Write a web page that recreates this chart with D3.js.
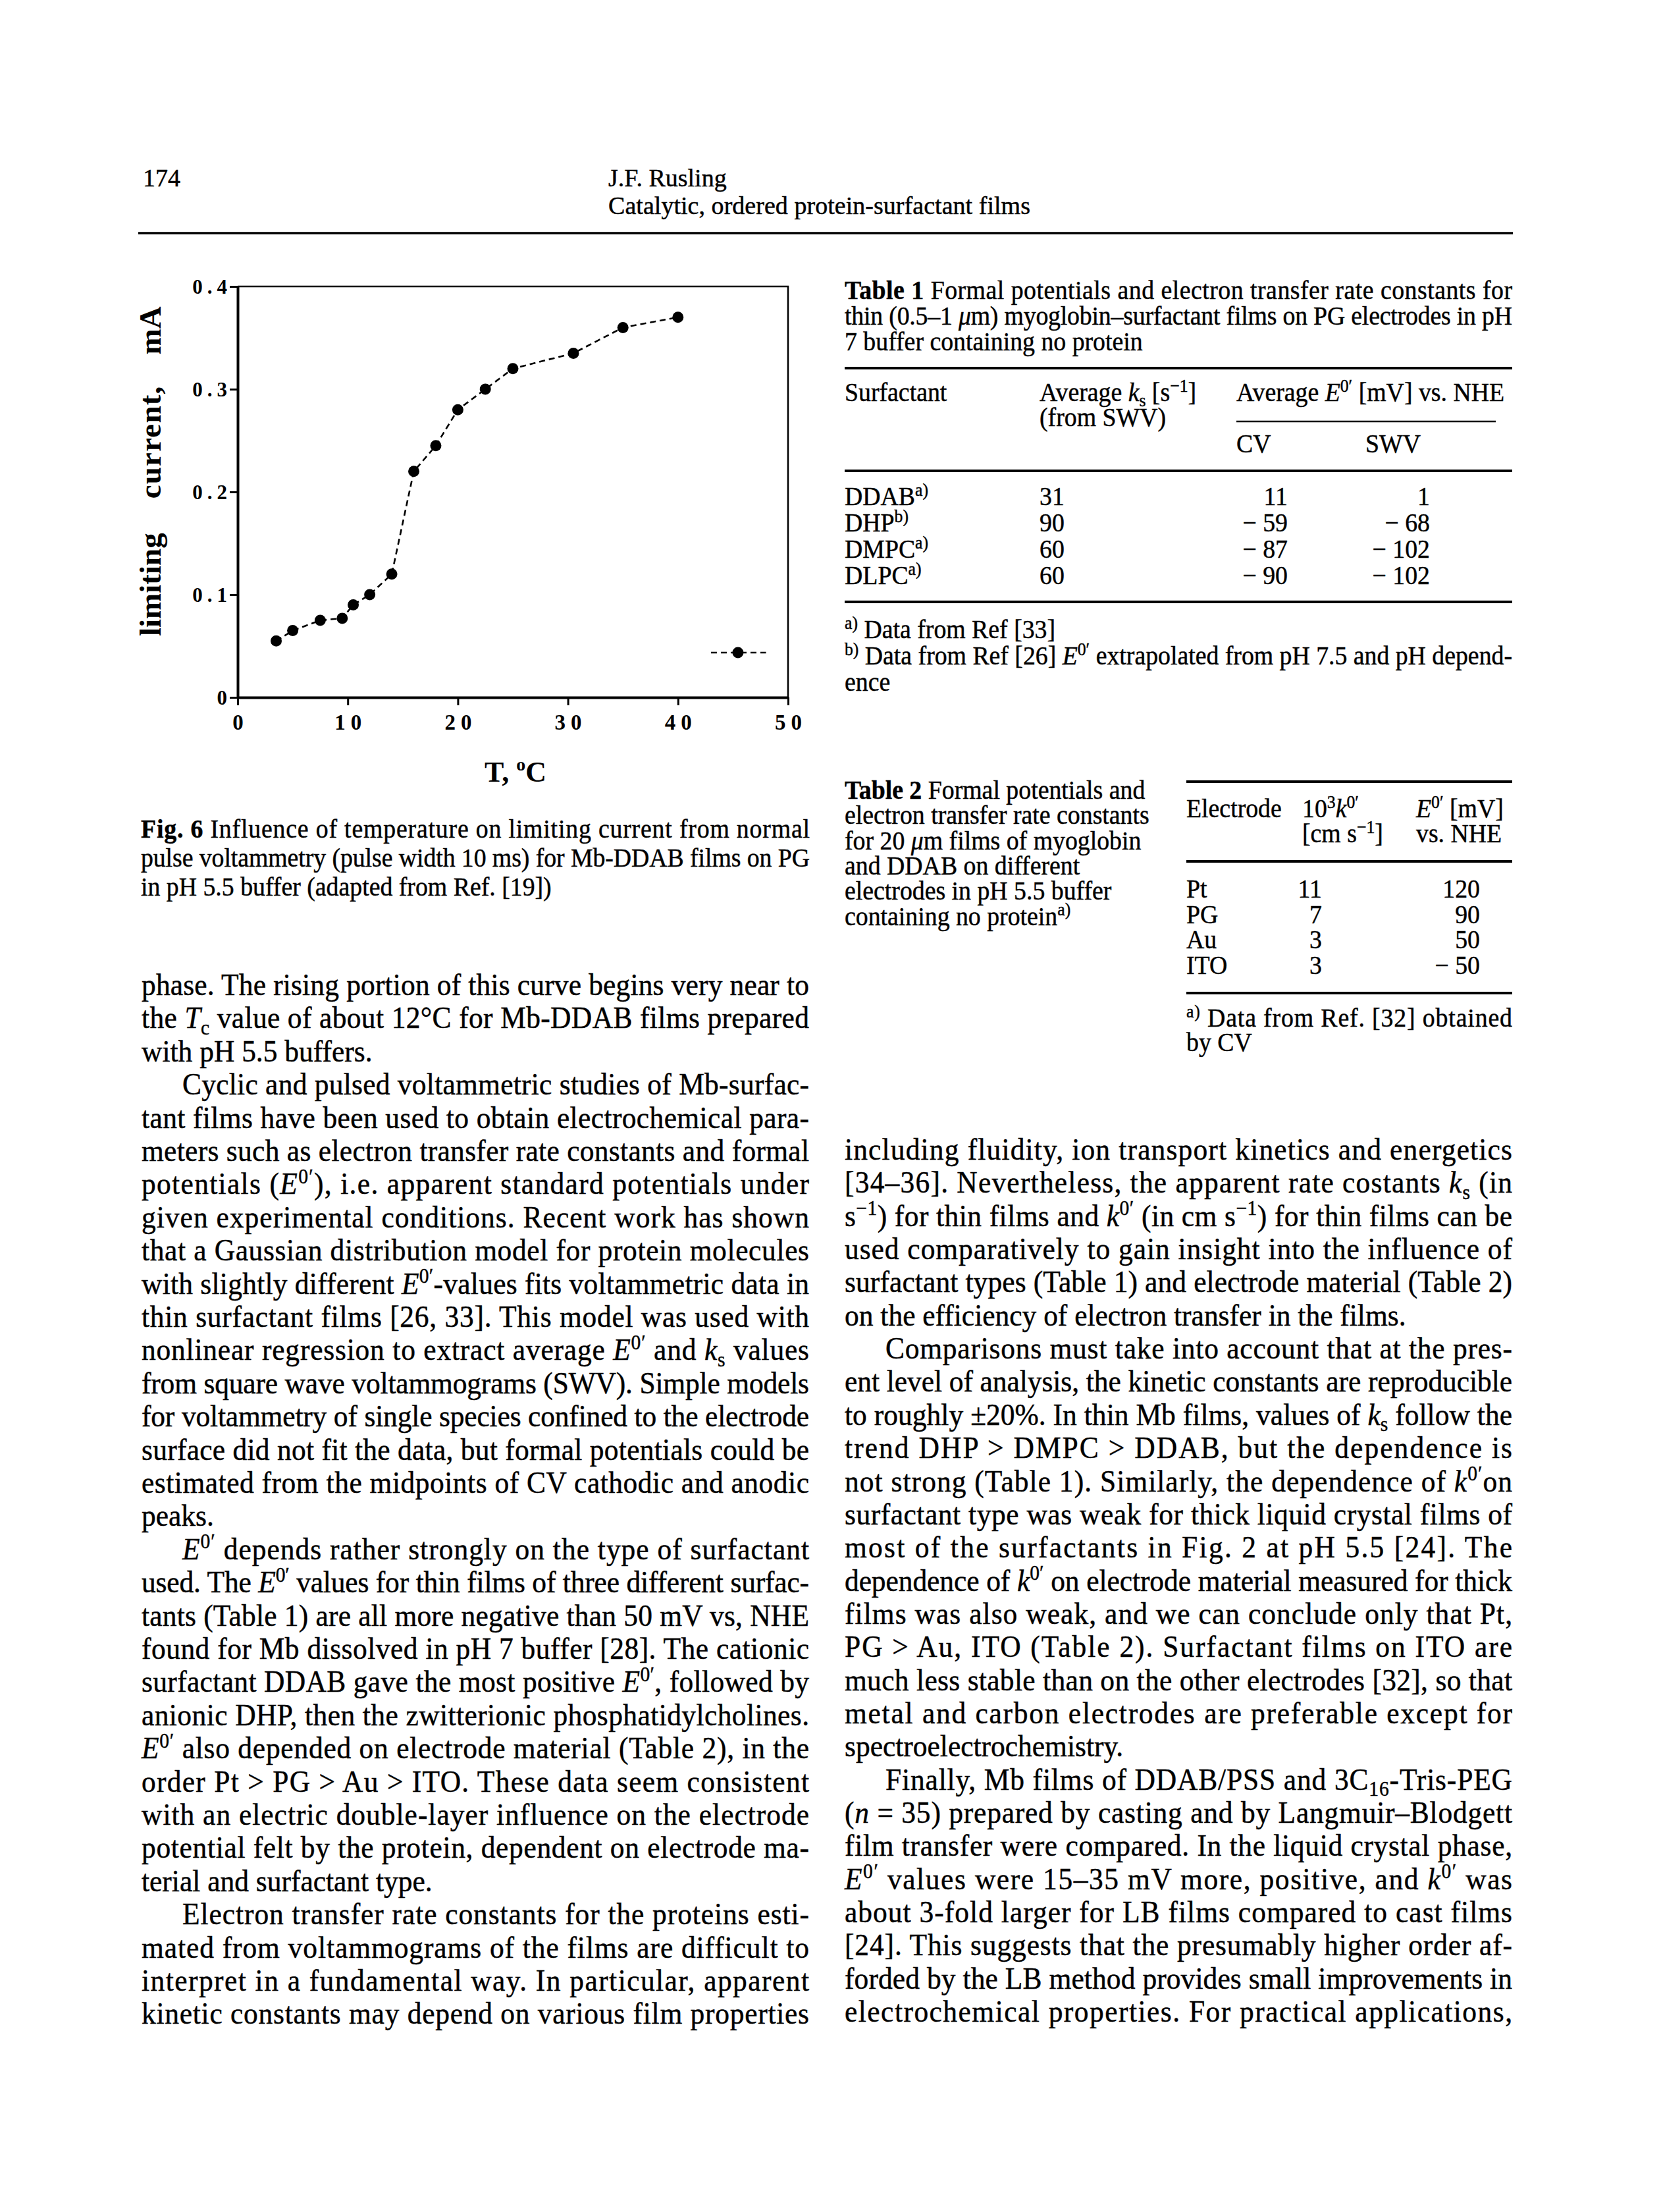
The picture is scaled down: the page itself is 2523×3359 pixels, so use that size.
<!DOCTYPE html>
<html><head><meta charset="utf-8">
<script src="https://cdn.jsdelivr.net/npm/d3@7"></script>
<style>
html,body{margin:0;padding:0;background:#fff;}
svg{display:block;}
text{font-family:"Liberation Serif","Times New Roman",serif;fill:#000;}
.ink text{stroke:#000;stroke-width:0.45px;}
</style></head><body>
<svg id="page" width="2523" height="3359"></svg>
<script>
// ---------------- chart data (Fig. 6) ----------------
const temperatureC   = [3.5, 5, 7.5, 9.5, 10.5, 12, 14, 16, 18, 20, 22.5, 25, 30.5, 35, 40];
const limitingCurrent = [0.055, 0.065, 0.075, 0.077, 0.09, 0.10, 0.12, 0.22, 0.245, 0.28, 0.30, 0.32, 0.335, 0.36, 0.37];
const xTickValues = [0, 10, 20, 30, 40, 50];
const xTickLabels = ["0", "10", "20", "30", "40", "50"];
const yTickValues = [0, 0.1, 0.2, 0.3, 0.4];
const yTickLabels = ["0", "0.1", "0.2", "0.3", "0.4"];
const legendLineT = [43, 48];
const legendDotT = 45.45;
const legendI = 0.0436;
const yLabelWords = ["limiting", "current,", "mA"];

// ---------------- table data ----------------
const table1Rows = [
  ["DDAB<sup>a)</sup>", "31", "11", "1"],
  ["DHP<sup>b)</sup>", "90", "− 59", "− 68"],
  ["DMPC<sup>a)</sup>", "60", "− 87", "− 102"],
  ["DLPC<sup>a)</sup>", "60", "− 90", "− 102"]
];
const table2Rows = [
  ["Pt", "11", "120"],
  ["PG", "7", "90"],
  ["Au", "3", "50"],
  ["ITO", "3", "− 50"]
];

// ---------------- text ----------------
const leftLines = [
  ["phase. The rising portion of this curve begins very near to","j"],
  ["the <i>T</i><sub>c</sub> value of about 12°C for Mb-DDAB films prepared","j"],
  ["with pH 5.5 buffers.","l"],
  ["Cyclic and pulsed voltammetric studies of Mb-surfac-","pj"],
  ["tant films have been used to obtain electrochemical para-","j"],
  ["meters such as electron transfer rate constants and formal","j"],
  ["potentials (<i>E</i><sup>0′</sup>), i.e. apparent standard potentials under","j"],
  ["given experimental conditions. Recent work has shown","j"],
  ["that a Gaussian distribution model for protein molecules","j"],
  ["with slightly different <i>E</i><sup>0′</sup>-values fits voltammetric data in","j"],
  ["thin surfactant films [26, 33]. This model was used with","j"],
  ["nonlinear regression to extract average <i>E</i><sup>0′</sup> and <i>k</i><sub>s</sub> values","j"],
  ["from square wave voltammograms (SWV). Simple models","j"],
  ["for voltammetry of single species confined to the electrode","j"],
  ["surface did not fit the data, but formal potentials could be","j"],
  ["estimated from the midpoints of CV cathodic and anodic","j"],
  ["peaks.","l"],
  ["<i>E</i><sup>0′</sup> depends rather strongly on the type of surfactant","pj"],
  ["used. The <i>E</i><sup>0′</sup> values for thin films of three different surfac-","j"],
  ["tants (Table 1) are all more negative than 50 mV vs, NHE","j"],
  ["found for Mb dissolved in pH 7 buffer [28]. The cationic","j"],
  ["surfactant DDAB gave the most positive <i>E</i><sup>0′</sup>, followed by","j"],
  ["anionic DHP, then the zwitterionic phosphatidylcholines.","j"],
  ["<i>E</i><sup>0′</sup> also depended on electrode material (Table 2), in the","j"],
  ["order Pt > PG > Au > ITO. These data seem consistent","j"],
  ["with an electric double-layer influence on the electrode","j"],
  ["potential felt by the protein, dependent on electrode ma-","j"],
  ["terial and surfactant type.","l"],
  ["Electron transfer rate constants for the proteins esti-","pj"],
  ["mated from voltammograms of the films are difficult to","j"],
  ["interpret in a fundamental way. In particular, apparent","j"],
  ["kinetic constants may depend on various film properties","j"]
];
const rightLines = [
  ["including fluidity, ion transport kinetics and energetics","j"],
  ["[34–36]. Nevertheless, the apparent rate costants <i>k</i><sub>s</sub> (in","j"],
  ["s<sup>−1</sup>) for thin films and <i>k</i><sup>0′</sup> (in cm s<sup>−1</sup>) for thin films can be","j"],
  ["used comparatively to gain insight into the influence of","j"],
  ["surfactant types (Table 1) and electrode material (Table 2)","j"],
  ["on the efficiency of electron transfer in the films.","l"],
  ["Comparisons must take into account that at the pres-","pj"],
  ["ent level of analysis, the kinetic constants are reproducible","j"],
  ["to roughly ±20%. In thin Mb films, values of <i>k</i><sub>s</sub> follow the","j"],
  ["trend DHP > DMPC > DDAB, but the dependence is","j"],
  ["not strong (Table 1). Similarly, the dependence of <i>k</i><sup>0′</sup>on","j"],
  ["surfactant type was weak for thick liquid crystal films of","j"],
  ["most of the surfactants in Fig. 2 at pH 5.5 [24]. The","j"],
  ["dependence of <i>k</i><sup>0′</sup> on electrode material measured for thick","j"],
  ["films was also weak, and we can conclude only that Pt,","j"],
  ["PG > Au, ITO (Table 2). Surfactant films on ITO are","j"],
  ["much less stable than on the other electrodes [32], so that","j"],
  ["metal and carbon electrodes are preferable except for","j"],
  ["spectroelectrochemistry.","l"],
  ["Finally, Mb films of DDAB/PSS and 3C<sub>16</sub>-Tris-PEG","pj"],
  ["(<i>n</i> = 35) prepared by casting and by Langmuir–Blodgett","j"],
  ["film transfer were compared. In the liquid crystal phase,","j"],
  ["<i>E</i><sup>0′</sup> values were 15–35 mV more, positive, and <i>k</i><sup>0′</sup> was","j"],
  ["about 3-fold larger for LB films compared to cast films","j"],
  ["[24]. This suggests that the presumably higher order af-","j"],
  ["forded by the LB method provides small improvements in","j"],
  ["electrochemical properties. For practical applications,","j"]
];
const figCaption = [
  ["<b>Fig. 6</b> Influence of temperature on limiting current from normal","j"],
  ["pulse voltammetry (pulse width 10 ms) for Mb-DDAB films on PG","j"],
  ["in pH 5.5 buffer (adapted from Ref. [19])","l"]
];
const table1Caption = [
  ["<b>Table 1</b> Formal potentials and electron transfer rate constants for","j"],
  ["thin (0.5–1 <i>μ</i>m) myoglobin–surfactant films on PG electrodes in pH","j"],
  ["7 buffer containing no protein","l"]
];
const table2Caption = [
  "<b>Table 2</b> Formal potentials and",
  "electron transfer rate constants",
  "for 20 <i>μ</i>m films of myoglobin",
  "and DDAB on different",
  "electrodes in pH 5.5 buffer",
  "containing no protein<sup>a)</sup>"
];

// ---------------- helpers ----------------
function parseMarkup(s){
  const re = /<(\/?)(i|b|sup|sub)>/g;
  const segs = []; const st = {i:0,b:0,sup:0,sub:0};
  let last = 0, m;
  while ((m = re.exec(s))) {
    if (m.index > last) segs.push(Object.assign({t:s.slice(last, m.index)}, st));
    st[m[2]] += m[1] ? -1 : 1;
    last = re.lastIndex;
  }
  if (last < s.length) segs.push(Object.assign({t:s.slice(last)}, st));
  return segs;
}
function addText(parent, x, y, markup, o){
  o = o || {};
  const size = o.size || 46, k = o.k || 1;
  const t = parent.append("text")
    .attr("transform", `translate(${x},${y}) scale(${k},1)`)
    .attr("font-size", size);
  if (o.anchor) t.attr("text-anchor", o.anchor);
  if (o.bold) t.attr("font-weight", "bold");
  let cur = 0;
  parseMarkup(markup).forEach(sg => {
    const target = sg.sup ? -0.36*size : (sg.sub ? 0.2*size : 0);
    const ts = t.append("tspan").text(sg.t);
    if (target !== cur) ts.attr("dy", target - cur);
    cur = target;
    if (sg.sup || sg.sub) ts.attr("font-size", size*0.68);
    if (sg.i) ts.attr("font-style", "italic");
    if (sg.b) ts.attr("font-weight", "bold");
  });
  if (o.W) t.attr("textLength", o.W / k).attr("lengthAdjust", "spacing");
  return t;
}
function rule(parent, x1, x2, yy, w){
  parent.append("line").attr("x1",x1).attr("x2",x2).attr("y1",yy).attr("y2",yy)
    .attr("stroke","#000").attr("stroke-width",w);
}

const svg = d3.select("#page");
svg.append("rect").attr("width",2523).attr("height",3359).attr("fill","#fff");

// ---------------- header ----------------
const head = svg.append("g").attr("class","ink");
addText(head, 217, 283, "174", {size:38});
addText(head, 924, 283, "J.F. Rusling", {size:38});
addText(head, 924, 325, "Catalytic, ordered protein-surfactant films", {size:38, W:641});
rule(head, 210, 2298, 354, 3.5);

// ---------------- chart ----------------
const plot = {left:361, right:1197, top:435, bottom:1059};
const x = d3.scaleLinear().domain([0,50]).range([plot.left, plot.right]);
const y = d3.scaleLinear().domain([0,0.4]).range([plot.bottom, plot.top]);
const chart = svg.append("g");

chart.append("path")
  .attr("d", `M${plot.left},${plot.top}H${plot.right}V${plot.bottom}`)
  .attr("fill","none").attr("stroke","#000").attr("stroke-width",2.5);

const gx = chart.append("g").attr("transform",`translate(0,${plot.bottom})`)
  .call(d3.axisBottom(x).tickValues(xTickValues).tickFormat((d,i)=>xTickLabels[i]).tickSize(12).tickSizeOuter(0));
gx.select(".domain").attr("stroke-width",4);
gx.selectAll(".tick line").attr("stroke-width",3);
gx.selectAll(".tick text").attr("y",49).attr("dy",0).attr("dx",4)
  .attr("font-size",33).attr("font-weight","bold").attr("letter-spacing",8);

const gy = chart.append("g").attr("transform",`translate(${plot.left},0)`)
  .call(d3.axisLeft(y).tickValues(yTickValues).tickFormat((d,i)=>yTickLabels[i]).tickSize(12).tickSizeOuter(0));
gy.select(".domain").attr("stroke-width",4);
gy.selectAll(".tick line").attr("stroke-width",3);
gy.selectAll(".tick text").attr("x",-9).attr("dy","0.34em")
  .attr("font-size",31).attr("font-weight","bold").attr("letter-spacing",7);

const pts = temperatureC.map((t,i)=>[t, limitingCurrent[i]]);
const line = d3.line().x(d=>x(d[0])).y(d=>y(d[1]));
chart.append("path").datum(pts).attr("d",line)
  .attr("fill","none").attr("stroke","#000").attr("stroke-width",2.6).attr("stroke-dasharray","9,6");
chart.selectAll("circle.pt").data(pts).join("circle").attr("class","pt")
  .attr("cx",d=>x(d[0])).attr("cy",d=>y(d[1])).attr("r",8.5).attr("fill","#000");

// legend sample
chart.append("path").datum(legendLineT.map(t=>[t, legendI])).attr("d",line)
  .attr("fill","none").attr("stroke","#000").attr("stroke-width",2.6).attr("stroke-dasharray","9,6");
chart.append("circle").attr("cx",x(legendDotT)).attr("cy",y(legendI)).attr("r",8.5).attr("fill","#000");

// axis titles
const yl = chart.append("text").attr("transform","translate(244,966) rotate(-90)")
  .attr("font-size",47).attr("font-weight","bold");
yl.selectAll("tspan").data(yLabelWords).join("tspan")
  .attr("dx",(d,i)=> i ? (i===1 ? 52 : 47) : 0)
  .attr("letter-spacing",(d,i)=> i===1 ? 1.2 : 0)
  .text(d=>d);

const xl = chart.append("text").attr("x",783).attr("y",1187).attr("text-anchor","middle")
  .attr("font-size",44).attr("font-weight","bold");
xl.append("tspan").text("T, ");
xl.append("tspan").attr("font-size",28).attr("dy",-17).text("o");
xl.append("tspan").attr("dy",17).text("C");

// ---------------- captions & tables ----------------
const K = 0.945;
const cap = svg.append("g").attr("class","ink");
figCaption.forEach((l,i)=>{
  addText(cap, 214, 1272 + i*44, l[0], {size:40, k:K, W: l[1]==="j" ? 1016 : null});
});

// Table 1
const t1 = svg.append("g").attr("class","ink");
const t1x = 1283, t1W = 1014;
table1Caption.forEach((l,i)=>{
  addText(t1, t1x, 454 + i*39, l[0], {size:40, k:K, W: l[1]==="j" ? t1W : null});
});
rule(t1, t1x, 2297, 559, 3.8);
addText(t1, t1x, 609, "Surfactant", {size:40, k:K});
addText(t1, 1579, 609, "Average <i>k</i><sub>s</sub> [s<sup>−1</sup>]", {size:40, k:K});
addText(t1, 1878, 609, "Average <i>E</i><sup>0′</sup> [mV] vs. NHE", {size:40, k:K});
addText(t1, 1579, 647, "(from SWV)", {size:40, k:K});
rule(t1, 1878, 2272, 640, 2.4);
addText(t1, 1878, 687, "CV", {size:40, k:K});
addText(t1, 2074, 687, "SWV", {size:40, k:K});
rule(t1, t1x, 2297, 715, 3.8);
table1Rows.forEach((r,i)=>{
  const yy = 767 + i*40;
  addText(t1, t1x, yy, r[0], {size:40, k:K});
  addText(t1, 1579, yy, r[1], {size:40, k:K});
  addText(t1, 1956, yy, r[2], {size:40, k:K, anchor:"end"});
  addText(t1, 2172, yy, r[3], {size:40, k:K, anchor:"end"});
});
rule(t1, t1x, 2297, 914, 3.8);
addText(t1, t1x, 969, "<sup>a)</sup> Data from Ref [33]", {size:40, k:K});
addText(t1, t1x, 1009, "<sup>b)</sup> Data from Ref [26] <i>E</i><sup>0′</sup> extrapolated from pH 7.5 and pH depend-", {size:40, k:K, W:t1W});
addText(t1, t1x, 1049, "ence", {size:40, k:K});

// Table 2
const t2 = svg.append("g").attr("class","ink");
table2Caption.forEach((l,i)=>{
  addText(t2, 1283, 1213 + i*38.3, l, {size:40, k:K});
});
rule(t2, 1802, 2297, 1187, 3.8);
addText(t2, 1802, 1241, "Electrode", {size:40, k:K});
addText(t2, 1978, 1241, "10<sup>3</sup><i>k</i><sup>0′</sup>", {size:40, k:K});
addText(t2, 2151, 1241, "<i>E</i><sup>0′</sup> [mV]", {size:40, k:K});
addText(t2, 1978, 1279, "[cm s<sup>−1</sup>]", {size:40, k:K});
addText(t2, 2151, 1279, "vs. NHE", {size:40, k:K});
rule(t2, 1802, 2297, 1308, 3.8);
table2Rows.forEach((r,i)=>{
  const yy = 1363 + i*38.7;
  addText(t2, 1802, yy, r[0], {size:40, k:K});
  addText(t2, 2008, yy, r[1], {size:40, k:K, anchor:"end"});
  addText(t2, 2248, yy, r[2], {size:40, k:K, anchor:"end"});
});
rule(t2, 1802, 2297, 1508, 3.8);
addText(t2, 1802, 1559, "<sup>a)</sup> Data from Ref. [32] obtained", {size:40, k:K, W:495});
addText(t2, 1802, 1596, "by CV", {size:40, k:K});

// ---------------- body text ----------------
function column(lines, x0, W, y0, lh){
  const g = svg.append("g").attr("class","ink");
  lines.forEach((l,i)=>{
    const ind = l[1]==="pj" ? 62 : 0;
    const just = l[1]==="j" || l[1]==="pj";
    addText(g, x0 + ind, y0 + i*lh, l[0], {size:46, k:K, W: just ? W - ind : null});
  });
}
column(leftLines, 215, 1014, 1511, 50.4);
column(rightLines, 1283, 1014, 1761, 50.35);
</script>
</body></html>
